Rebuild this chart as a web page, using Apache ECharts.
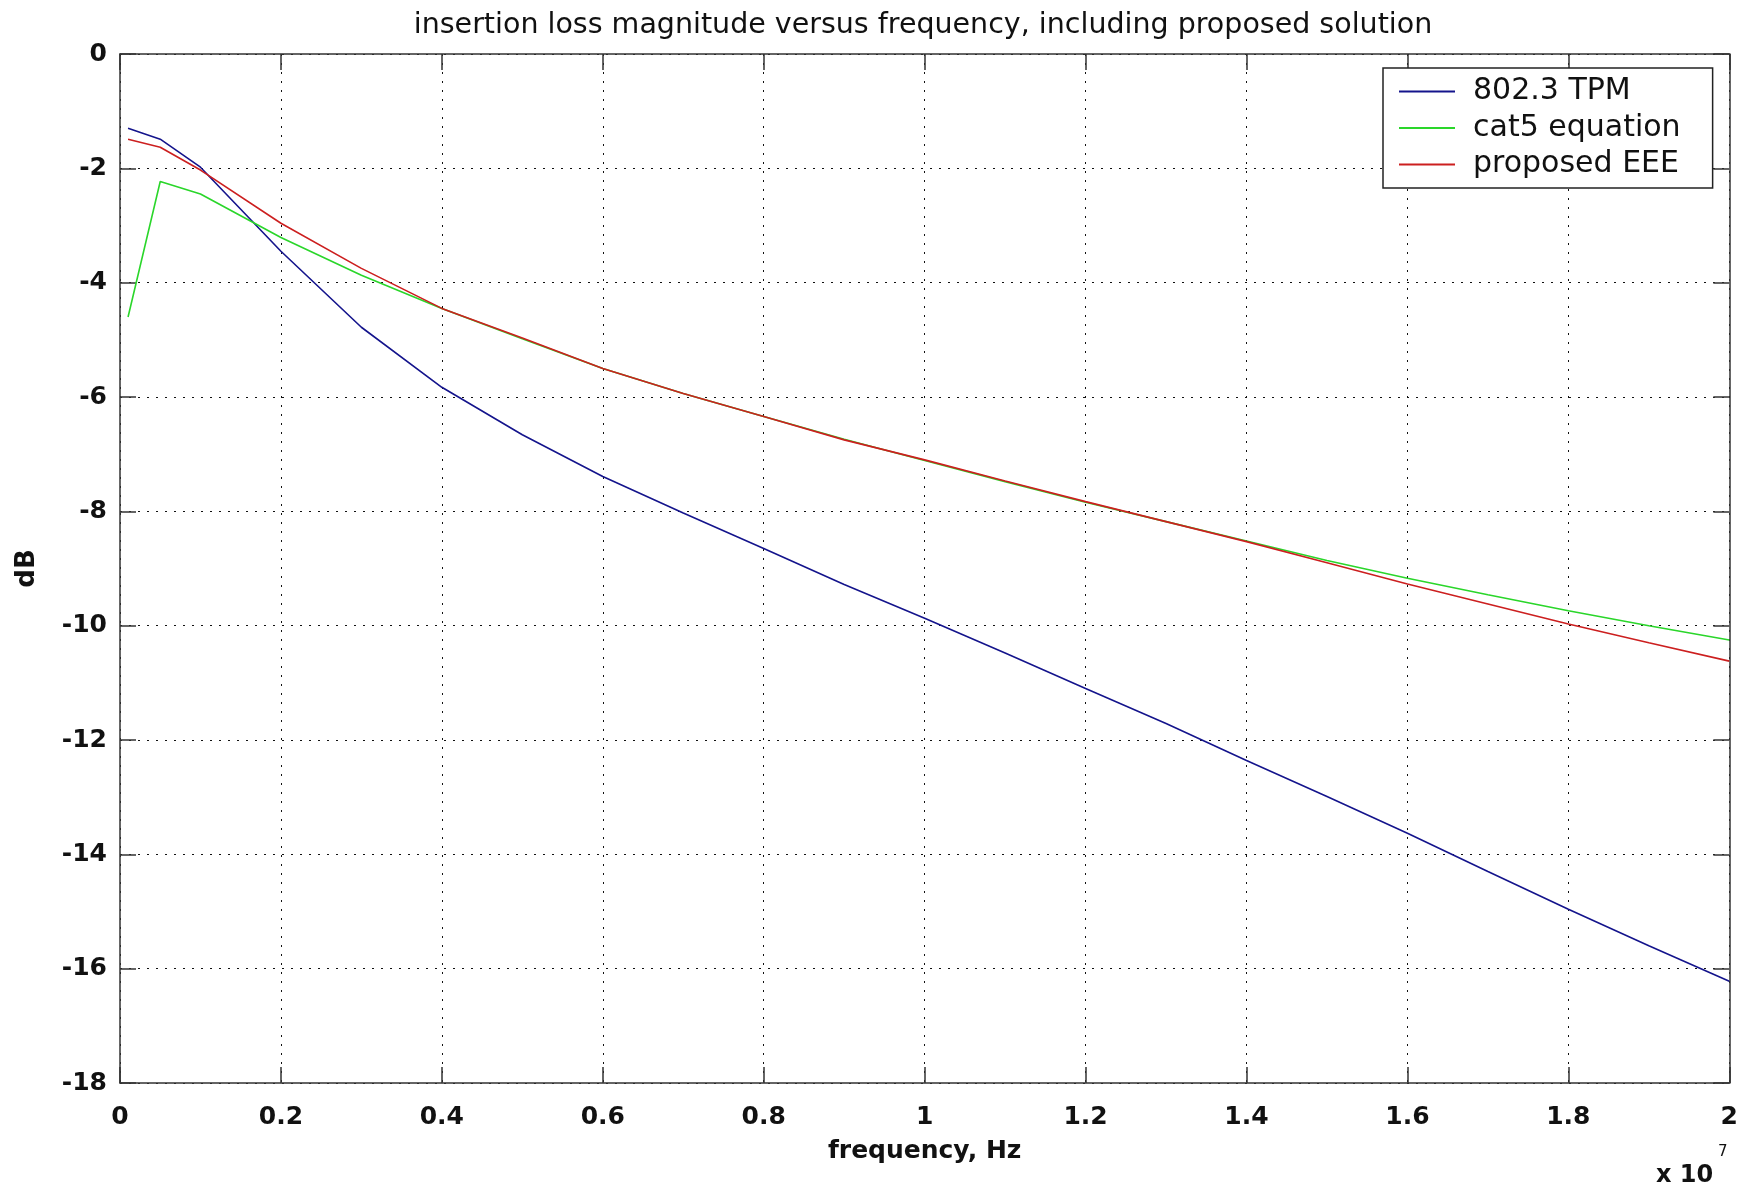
<!DOCTYPE html>
<html>
<head>
<meta charset="utf-8">
<script src="https://cdn.jsdelivr.net/npm/echarts@6/dist/echarts.min.js"></script>
<style>
html,body{margin:0;padding:0;background:#fff;}
#chart{width:1741px;height:1187px;}
</style>
</head>
<body>
<div id="chart"></div>
<script>
// frequency in units of 1e7 Hz
const freq = [0.01, 0.05, 0.1, 0.2, 0.3, 0.4, 0.5, 0.6, 0.7, 0.8, 0.9, 1.0, 1.1, 1.2, 1.3, 1.4, 1.5, 1.6, 1.7, 1.8, 1.9, 2.0];
const tpm  = [-1.30, -1.49, -1.98, -3.45, -4.78, -5.83, -6.66, -7.39, -8.03, -8.65, -9.28, -9.87, -10.48, -11.10, -11.71, -12.36, -12.99, -13.63, -14.30, -14.96, -15.60, -16.22];
const cat5 = [-4.60, -2.23, -2.45, -3.21, -3.87, -4.45, -4.98, -5.50, -5.94, -6.34, -6.74, -7.11, -7.48, -7.84, -8.18, -8.52, -8.86, -9.17, -9.46, -9.74, -10.00, -10.25];
const eee  = [-1.49, -1.63, -2.03, -2.96, -3.75, -4.45, -4.97, -5.50, -5.94, -6.34, -6.75, -7.10, -7.47, -7.83, -8.18, -8.53, -8.90, -9.27, -9.62, -9.97, -10.30, -10.62];
const seriesNames = ['802.3 TPM', 'cat5 equation', 'proposed EEE'];
const seriesColors = ['#14148c', '#2ad62a', '#cc1f1f'];
const titleText = 'insertion loss magnitude versus frequency, including proposed solution';
const xLabel = 'frequency, Hz';
const yLabel = 'dB';

const FONT = 'DejaVu Sans';
const pair = (ys) => freq.map((f, i) => [f, ys[i]]);

const chart = echarts.init(document.getElementById('chart'), null, {renderer: 'canvas'});
const dotted = {type: [2, 7], color: '#111', width: 1};
const axisLine = {show: true, onZero: false, lineStyle: {color: '#333', width: 1.5}};
const tick = {show: true, inside: true, length: 16, lineStyle: {color: '#333', width: 1.5}};
const tickLabel = {fontFamily: FONT, fontWeight: 'bold', fontSize: 25, color: '#111'};

chart.setOption({
  animation: false,
  backgroundColor: '#fff',
  title: {
    text: titleText,
    left: 918,
    textAlign: 'center',
    top: 6,
    textStyle: {fontFamily: FONT, fontWeight: 'normal', fontSize: 28.5, color: '#111'}
  },
  grid: {left: 120, right: 10, top: 54, bottom: 104, containLabel: false},
  legend: {
    data: seriesNames.map((n) => ({name: n, icon: 'rect'})),
    orient: 'vertical',
    left: 1383,
    top: 68,
    padding: [8, 32, 8, 16],
    itemWidth: 56,
    itemHeight: 2,
    itemGap: 5.5,
    backgroundColor: '#fff',
    borderColor: '#222',
    borderWidth: 1.5,
    textStyle: {fontFamily: FONT, fontSize: 30, color: '#111', lineHeight: 31, padding: [0, 0, 0, 13]}
  },
  xAxis: [{
    type: 'value', min: 0, max: 2, interval: 0.2, position: 'bottom',
    name: xLabel, nameLocation: 'middle', nameGap: 56,
    nameTextStyle: {fontFamily: FONT, fontWeight: 'bold', fontSize: 25, color: '#111'},
    axisLine: axisLine, axisTick: tick,
    axisLabel: Object.assign({margin: 22, showMaxLabel: true, showMinLabel: true}, tickLabel),
    splitLine: {show: true, lineStyle: dotted}
  }, {
    type: 'value', min: 0, max: 2, interval: 0.2, position: 'top',
    axisLine: axisLine, axisTick: tick, axisLabel: {show: false}, splitLine: {show: false}
  }],
  yAxis: [{
    type: 'value', min: -18, max: 0, interval: 2, position: 'left',
    name: yLabel, nameLocation: 'middle', nameGap: 80, nameRotate: 90,
    nameTextStyle: {fontFamily: FONT, fontWeight: 'bold', fontSize: 26, color: '#111'},
    axisLine: axisLine, axisTick: tick,
    axisLabel: Object.assign({margin: 13, showMaxLabel: true, showMinLabel: true}, tickLabel),
    splitLine: {show: true, lineStyle: dotted}
  }, {
    type: 'value', min: -18, max: 0, interval: 2, position: 'right',
    axisLine: axisLine, axisTick: tick, axisLabel: {show: false}, splitLine: {show: false}
  }],
  series: [tpm, cat5, eee].map((ys, i) => ({
    name: seriesNames[i],
    type: 'line',
    data: pair(ys),
    symbol: 'none',
    smooth: false,
    lineStyle: {color: seriesColors[i], width: 1.6},
    itemStyle: {color: seriesColors[i]},
    z: 3
  })),
  graphic: [
    {type: 'text', left: 1656, top: 1164, style: {text: 'x 10', font: 'bold 24px "DejaVu Sans"', fill: '#111'}},
    {type: 'text', left: 1718, top: 1145, style: {text: '7', font: '15px "DejaVu Sans"', fill: '#111'}}
  ]
});
</script>
</body>
</html>
